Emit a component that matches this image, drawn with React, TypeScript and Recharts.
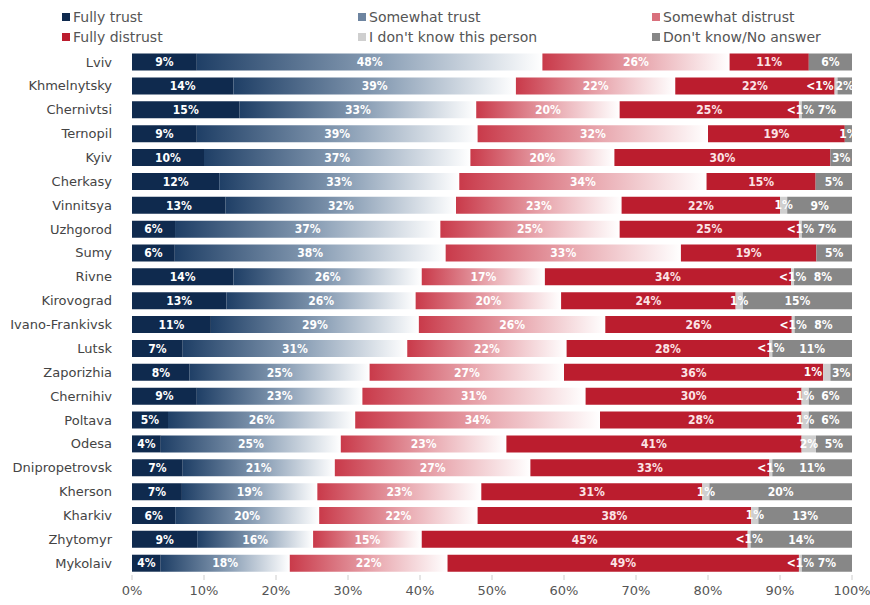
import { BarChart, Bar, XAxis, YAxis, LabelList } from 'recharts';

const cities = [
  'Lviv', 'Khmelnytsky', 'Chernivtsi', 'Ternopil', 'Kyiv', 'Cherkasy', 'Vinnitsya',
  'Uzhgorod', 'Sumy', 'Rivne', 'Kirovograd', 'Ivano-Frankivsk', 'Lutsk', 'Zaporizhia',
  'Chernihiv', 'Poltava', 'Odesa', 'Dnipropetrovsk', 'Kherson', 'Kharkiv', 'Zhytomyr', 'Mykolaiv',
];

// 0.4 stands for "<1%"
const fullyTrust = [9, 14, 15, 9, 10, 12, 13, 6, 6, 14, 13, 11, 7, 8, 9, 5, 4, 7, 7, 6, 9, 4];
const somewhatTrust = [48, 39, 33, 39, 37, 33, 32, 37, 38, 26, 26, 29, 31, 25, 23, 26, 25, 21, 19, 20, 16, 18];
const somewhatDistrust = [26, 22, 20, 32, 20, 34, 23, 25, 33, 17, 20, 26, 22, 27, 31, 34, 23, 27, 23, 22, 15, 22];
const fullyDistrust = [11, 22, 25, 19, 30, 15, 22, 25, 19, 34, 24, 26, 28, 36, 30, 28, 41, 33, 31, 38, 45, 49];
const dontKnowPerson = [0, 0.4, 0.4, 0, 0, 0, 1, 0.4, 0, 0.4, 1, 0.4, 0.4, 1, 1, 1, 2, 0.4, 1, 1, 0.4, 0.4];
const noAnswer = [6, 2, 7, 1, 3, 5, 9, 7, 5, 8, 15, 8, 11, 3, 6, 6, 5, 11, 20, 13, 14, 7];

const xTicks = [0, 0.1, 0.2, 0.3, 0.4, 0.5, 0.6, 0.7, 0.8, 0.9, 1];

const data = cities.map((city, i) => ({
  city,
  ft: fullyTrust[i],
  st: somewhatTrust[i],
  sd: somewhatDistrust[i],
  fd: fullyDistrust[i],
  dkp: dontKnowPerson[i],
  dkna: noAnswer[i],
}));

const series = [
  { key: 'ft', name: 'Fully trust', fill: '#0f2a4e', swatch: '#0f2a4e' },
  { key: 'st', name: 'Somewhat trust', fill: 'url(#gradTrust)', swatch: '#6d84a0' },
  { key: 'sd', name: 'Somewhat distrust', fill: 'url(#gradDistrust)', swatch: '#d9707c' },
  { key: 'fd', name: 'Fully distrust', fill: '#bb1d2e', swatch: '#bb1d2e' },
  { key: 'dkp', name: "I don't know this person", fill: '#cfcfcf', swatch: '#cfcfcf' },
  { key: 'dkna', name: "Don't know/No answer", fill: '#878787', swatch: '#878787' },
];

// legend order: row by row, three columns
const legendOrder = ['ft', 'st', 'sd', 'fd', 'dkp', 'dkna'];
const legendCols = [62, 358, 652];

const fmt = (v: any) => {
  const n = Number(v);
  if (!n) return '';
  return n < 1 ? '<1%' : `${n}%`;
};

const FONT = '"DejaVu Sans", Verdana, sans-serif';
const LABEL_FONT = '"DejaVu Sans Condensed", "DejaVu Sans", sans-serif';

// label value for the tiny "don't know this person" segment, with a flag when the next one is narrow
const dkpLabelKey = (d: any) => ({ v: d.dkp, crowded: d.dkna <= 3 });

const renderDkpLabel = (props: any) => {
  const { x, y, width, height, value } = props;
  if (!value || typeof value !== 'object') return null;
  const text = fmt(value.v);
  if (!text) return null;
  const crowded = value.crowded;
  return (
    <text
      x={crowded ? x - 1 : x + width / 2}
      y={y + height / 2}
      textAnchor={crowded ? 'end' : 'middle'}
      dominantBaseline="central"
      fill="#ffffff"
      fontSize={12}
      fontWeight="bold"
      fontFamily={LABEL_FONT}
    >
      {text}
    </text>
  );
};

export default function App() {
  return (
    <div style={{ position: 'absolute', left: 0, top: 0, width: 870, height: 605, background: '#fff', fontFamily: FONT }}>
      {legendOrder.map((k, i) => {
        const s = series.find((x) => x.key === k)!;
        return (
          <div
            key={k}
            style={{
              position: 'absolute',
              left: legendCols[i % 3],
              top: i < 3 ? 9 : 29,
              display: 'flex',
              alignItems: 'center',
              fontSize: 14,
              color: '#555',
              whiteSpace: 'nowrap',
            }}
          >
            <span style={{ display: 'inline-block', width: 8, height: 8, background: s.swatch, marginRight: 3 }} />
            {s.name}
          </div>
        );
      })}
      <BarChart
        width={870}
        height={605}
        data={data}
        layout="vertical"
        stackOffset="expand"
        barCategoryGap="15%"
        margin={{ top: 50, right: 18, bottom: 0, left: 0 }}
      >
        <defs>
          <linearGradient id="gradTrust" x1="0" y1="0" x2="1" y2="0">
            <stop offset="0%" stopColor="#1f3f66" />
            <stop offset="55%" stopColor="#8ea2b8" />
            <stop offset="100%" stopColor="#ffffff" />
          </linearGradient>
          <linearGradient id="gradDistrust" x1="0" y1="0" x2="1" y2="0">
            <stop offset="0%" stopColor="#c93a4a" />
            <stop offset="55%" stopColor="#e9aab1" />
            <stop offset="100%" stopColor="#ffffff" />
          </linearGradient>
        </defs>
        <XAxis
          type="number"
          domain={[0, 1]}
          ticks={xTicks}
          tickFormatter={(v) => `${Math.round(v * 100)}%`}
          axisLine={false}
          tickLine={{ stroke: '#ccc' }}
          tickSize={5}
          tickMargin={6}
          height={30}
          tick={{ fontSize: 13, fill: '#555', fontFamily: FONT }}
        />
        <YAxis
          type="category"
          dataKey="city"
          width={132}
          axisLine={false}
          tickLine={false}
          tickMargin={14}
          interval={0}
          tick={{ fontSize: 13, fill: '#444', fontFamily: FONT }}
        />
        {series.map((s) => (
          <Bar key={s.key} dataKey={s.key} name={s.name} stackId="a" fill={s.fill} isAnimationActive={false}>
            {s.key === 'dkp' ? (
              <LabelList dataKey={dkpLabelKey} content={renderDkpLabel} />
            ) : (
              <LabelList
                dataKey={s.key}
                position="center"
                formatter={fmt}
                fill={s.key === 'fd' ? '#fbe3e6' : '#ffffff'}
                fontSize={12}
                fontWeight="bold"
                fontFamily={LABEL_FONT}
              />
            )}
          </Bar>
        ))}
      </BarChart>
    </div>
  );
}
